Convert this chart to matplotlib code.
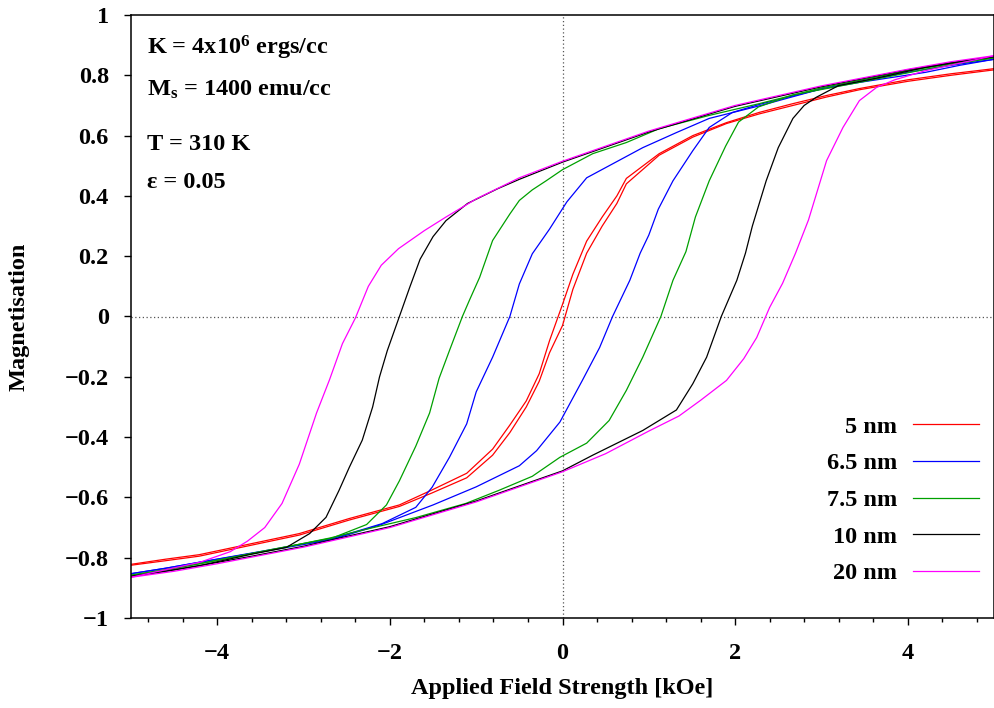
import matplotlib
matplotlib.use('Agg')
import matplotlib.pyplot as plt
from matplotlib.ticker import MultipleLocator, FuncFormatter

plt.rcParams['font.family'] = ['Liberation Serif', 'DejaVu Serif']
plt.rcParams['font.weight'] = 'bold'
plt.rcParams['mathtext.fontset'] = 'custom'
plt.rcParams['mathtext.rm'] = 'Liberation Serif:bold'
plt.rcParams['mathtext.bf'] = 'Liberation Serif:bold'
plt.rcParams['mathtext.default'] = 'rm'

# Данные: верхняя ветвь (поле убывает) и нижняя ветвь (поле растёт), kOe
h_up_5 = [5, 4.5, 4, 3.44, 3.06, 2.67, 2.28, 1.9, 1.51, 1.12, 0.74, 0.63, 0.46, 0.28, 0.12, 0.0,
          -0.15, -0.27, -0.42, -0.61, -0.81, -1.11, -1.51, -1.89, -2.47, -3.05, -3.63, -4.21, -4.6, -5]
m_up_5 = [0.822, 0.805, 0.785, 0.756, 0.733, 0.706, 0.677, 0.643, 0.60, 0.54, 0.458, 0.40, 0.33, 0.25, 0.14, 0.04,
          -0.08, -0.19, -0.28, -0.36, -0.44, -0.52, -0.575, -0.625, -0.67, -0.72, -0.755, -0.79, -0.805, -0.822]
h_dn_5 = [-5, -4.6, -4.21, -3.63, -3.05, -2.47, -1.89, -1.51, -1.11, -0.81, -0.61, -0.42, -0.27, -0.15, 0.0,
          0.12, 0.28, 0.46, 0.63, 0.74, 1.12, 1.51, 1.9, 2.28, 2.67, 3.06, 3.44, 4, 4.5, 5]
m_dn_5 = [-0.825, -0.81, -0.795, -0.76, -0.725, -0.675, -0.63, -0.585, -0.535, -0.46, -0.385, -0.30, -0.215, -0.12, -0.03,
          0.09, 0.21, 0.30, 0.375, 0.44, 0.535, 0.595, 0.64, 0.672, 0.70, 0.728, 0.752, 0.78, 0.80, 0.818]

h_up_65 = [5, 4.5, 4, 3, 2.3, 1.7, 1.32, 0.93, 0.54, 0.28, 0.05, -0.15, -0.35, -0.5, -0.61, -0.81, -1.0,
           -1.11, -1.31, -1.51, -1.7, -2.09, -2.67, -3.43, -4.21, -4.6, -5]
m_up_65 = [0.853, 0.833, 0.81, 0.755, 0.70, 0.657, 0.61, 0.56, 0.50, 0.46, 0.38, 0.29, 0.208, 0.108, 0.0, -0.135, -0.25,
           -0.356, -0.467, -0.566, -0.633, -0.687, -0.737, -0.776, -0.815, -0.835, -0.853]
h_dn_65 = [-5, -4.6, -4.2, -3.4, -2.67, -2.1, -1.5, -1.0, -0.5, -0.3, -0.03, 0.23, 0.43, 0.58, 0.78, 0.9, 1.0,
           1.11, 1.28, 1.51, 1.7, 1.97, 2.3, 3, 3.43, 4.21, 4.6, 5]
m_dn_65 = [-0.853, -0.835, -0.815, -0.776, -0.74, -0.69, -0.625, -0.565, -0.495, -0.445, -0.35, -0.212, -0.103, 0.0, 0.12, 0.21, 0.27,
           0.356, 0.45, 0.55, 0.627, 0.677, 0.705, 0.755, 0.776, 0.81, 0.833, 0.853]

h_up_75 = [5, 4.5, 4, 3, 2.28, 1.7, 1.12, 0.74, 0.35, 0.0, -0.19, -0.35, -0.5, -0.61, -0.81, -0.96, -1.08,
           -1.16, -1.31, -1.43, -1.54, -1.7, -1.89, -2.04, -2.27, -2.67, -3.43, -4.21, -4.6, -5]
m_up_75 = [0.858, 0.838, 0.815, 0.758, 0.706, 0.667, 0.623, 0.577, 0.54, 0.487, 0.45, 0.42, 0.385, 0.34, 0.252, 0.13, 0.053,
           0.0, -0.113, -0.205, -0.32, -0.43, -0.545, -0.625, -0.69, -0.735, -0.776, -0.82, -0.84, -0.858]
h_dn_75 = [-5, -4.6, -4.2, -3.4, -2.7, -2.28, -1.7, -1.12, -0.74, -0.35, -0.03, 0.28, 0.54, 0.74, 0.93, 1.14,
           1.28, 1.43, 1.54, 1.7, 1.89, 2.04, 2.27, 2.67, 3.43, 4.21, 4.6, 5]
m_dn_75 = [-0.858, -0.84, -0.82, -0.776, -0.735, -0.706, -0.667, -0.62, -0.577, -0.53, -0.467, -0.42, -0.345, -0.245, -0.135, 0.0,
           0.12, 0.215, 0.33, 0.45, 0.565, 0.645, 0.695, 0.735, 0.776, 0.82, 0.84, 0.858]

h_up_10 = [5, 4.5, 4, 3, 2, 1, 0, -0.5, -0.75, -1.1, -1.35, -1.5, -1.65, -1.77, -1.89, -2.03, -2.12,
           -2.2, -2.32, -2.47, -2.59, -2.74, -2.93, -3.2, -3.63, -4.2, -4.6, -5]
m_up_10 = [0.862, 0.842, 0.818, 0.762, 0.697, 0.612, 0.512, 0.455, 0.424, 0.375, 0.318, 0.265, 0.19, 0.097, 0.0, -0.113, -0.20,
           -0.30, -0.41, -0.50, -0.577, -0.666, -0.72, -0.766, -0.79, -0.826, -0.845, -0.862]
h_dn_10 = [-5, -4.6, -4.2, -3.6, -3, -2, -1, 0, 0.35, 0.93, 1.32, 1.51, 1.67, 1.84, 2.02, 2.12,
           2.2, 2.36, 2.5, 2.67, 2.8, 2.94, 3.2, 3.63, 4.2, 4.6, 5]
m_dn_10 = [-0.862, -0.845, -0.826, -0.795, -0.762, -0.697, -0.612, -0.512, -0.46, -0.378, -0.31, -0.223, -0.135, 0.0, 0.12, 0.21,
           0.30, 0.45, 0.56, 0.657, 0.70, 0.727, 0.766, 0.79, 0.826, 0.845, 0.862]

h_up_20 = [5, 4.5, 4, 3, 2, 1, 0, -0.5, -1.0, -1.35, -1.6, -1.9, -2.1, -2.25, -2.4, -2.55, -2.7,
           -2.85, -3.05, -3.25, -3.45, -3.65, -3.85, -4.2, -4.6, -5]
m_up_20 = [0.865, 0.845, 0.82, 0.765, 0.70, 0.615, 0.515, 0.46, 0.39, 0.33, 0.285, 0.225, 0.17, 0.10, -0.005, -0.09, -0.21,
           -0.32, -0.49, -0.62, -0.70, -0.745, -0.78, -0.815, -0.84, -0.865]
h_dn_20 = [-5, -4.5, -4, -3, -2, -1, 0, 0.5, 1.0, 1.35, 1.6, 1.9, 2.1, 2.25, 2.4, 2.55, 2.7,
           2.85, 3.06, 3.25, 3.44, 3.64, 3.85, 4.2, 4.6, 5]
m_dn_20 = [-0.865, -0.845, -0.82, -0.765, -0.70, -0.615, -0.515, -0.455, -0.38, -0.33, -0.278, -0.212, -0.14, -0.07, 0.03, 0.11, 0.21,
           0.32, 0.517, 0.627, 0.716, 0.76, 0.785, 0.815, 0.84, 0.865]

labels = ['5 nm', '6.5 nm', '7.5 nm', '10 nm', '20 nm']
colors = ['#ff0000', '#0000ff', '#00a000', '#000000', '#ff00ff']
branches = [
    (h_up_5, m_up_5, h_dn_5, m_dn_5),
    (h_up_65, m_up_65, h_dn_65, m_dn_65),
    (h_up_75, m_up_75, h_dn_75, m_dn_75),
    (h_up_10, m_up_10, h_dn_10, m_dn_10),
    (h_up_20, m_up_20, h_dn_20, m_dn_20),
]

FS = 17.5

fig = plt.figure(figsize=(9.95, 7.08), dpi=100)
ax = fig.add_axes([131 / 995, 90 / 708, 863 / 995, 603 / 708])

ax.axhline(0, color='#555555', lw=0.9, ls=(0, (1, 2)))
ax.axvline(0, color='#555555', lw=0.9, ls=(0, (1, 2)))

for (hu, mu, hd, md), lab, col in zip(branches, labels, colors):
    ax.plot(hu, mu, color=col, lw=0.9, label=lab)
    ax.plot(hd, md, color=col, lw=0.9)

ax.set_xlim(-5, 5)
ax.set_ylim(-1, 1)
ax.xaxis.set_major_locator(MultipleLocator(2))
ax.xaxis.set_minor_locator(MultipleLocator(0.4))
ax.yaxis.set_major_locator(MultipleLocator(0.2))
fmt = FuncFormatter(lambda v, p: ('%g' % round(v, 2)).replace('-', '\u2212'))
ax.xaxis.set_major_formatter(fmt)
ax.yaxis.set_major_formatter(fmt)
ax.tick_params(which='major', direction='out', length=5, width=1, labelsize=FS)
ax.tick_params(which='minor', direction='out', length=3, width=1)
ax.tick_params(axis='x', pad=13)
ax.tick_params(axis='y', pad=11)
for s in ax.spines.values():
    s.set_linewidth(1.1)

ax.set_xlabel('Applied Field Strength [kOe]', fontsize=FS, fontweight='bold', va='top')
ax.set_ylabel('Magnetisation', fontsize=FS, fontweight='bold')
ax.xaxis.set_label_coords(0.5, -0.099)
ax.yaxis.set_label_coords(-0.117, 0.5)

ax.text(0.0185, 0.9337, r'K = 4x10$^{6}$ ergs/cc', transform=ax.transAxes, fontsize=FS, fontweight='bold')
ax.text(0.0185, 0.8657, r'M$_{\rm s}$ = 1400 emu/cc', transform=ax.transAxes, fontsize=FS, fontweight='bold')
ax.text(0.0185, 0.7761, 'T = 310 K', transform=ax.transAxes, fontsize=FS, fontweight='bold')
ax.text(0.0185, 0.7131, '\u03b5 = 0.05', transform=ax.transAxes, fontsize=FS, fontweight='bold')

leg = ax.legend(loc='lower right', bbox_to_anchor=(0.9826, 0.056), frameon=False, markerfirst=False,
                fontsize=FS, handlelength=2.7, handletextpad=0.66, labelspacing=0.6,
                borderpad=0, borderaxespad=0)
for t in leg.get_texts():
    t.set_fontweight('bold')

fig.savefig('out.png', dpi=100)
